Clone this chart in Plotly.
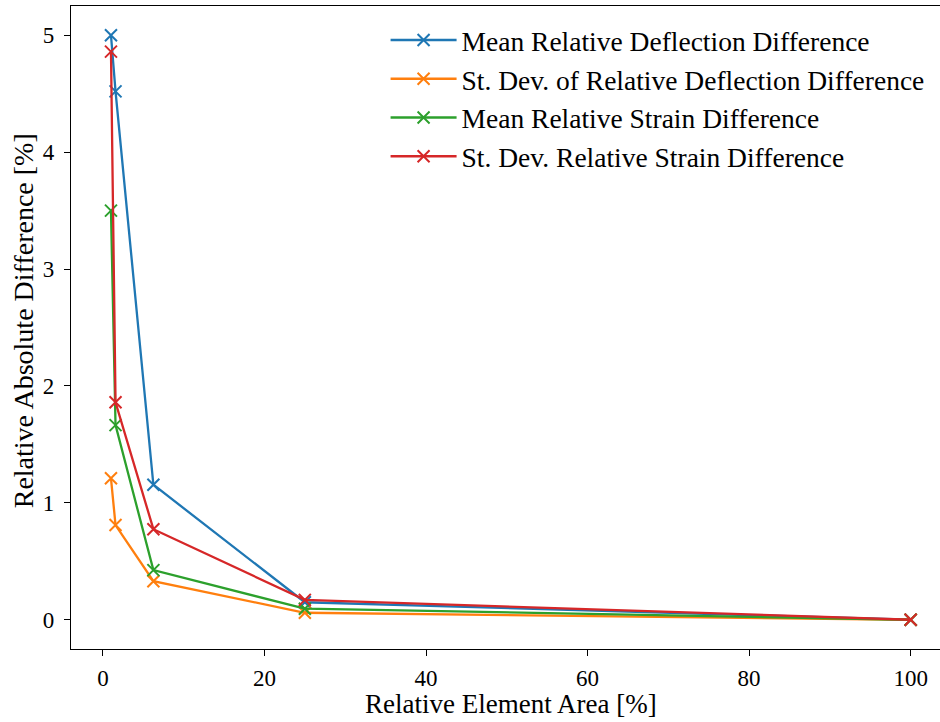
import plotly.graph_objects as go

area = [1, 1.5625, 6.25, 25, 100]
mean_defl = [5.00, 4.52, 1.155, 0.15, 0.0]
std_defl = [1.21, 0.81, 0.33, 0.06, 0.0]
mean_strain = [3.50, 1.665, 0.425, 0.095, 0.0]
std_strain = [4.86, 1.86, 0.775, 0.17, 0.0]

names = ["Mean Relative Deflection Difference",
         "St. Dev. of Relative Deflection Difference",
         "Mean Relative Strain Difference",
         "St. Dev. Relative Strain Difference"]
colors = ["#1f77b4", "#ff7f0e", "#2ca02c", "#d62728"]
series = [mean_defl, std_defl, mean_strain, std_strain]

x_title = "Relative Element Area [%]"
y_title = "Relative Absolute Difference [%]"

FONT = "Liberation Serif, Times New Roman, serif"

fig = go.Figure()
for i, (nm, c, ys) in enumerate(zip(names, colors, series)):
    fig.add_trace(go.Scatter(
        x=area, y=ys, name=nm, mode="lines+markers",
        line=dict(color=c, width=2.3),
        marker=dict(symbol="x-thin", size=12, line=dict(color=c, width=2)),
        legendgroup=f"g{i}",
    ))

fig.update_layout(
    width=940, height=722,
    margin=dict(l=71, r=0, t=6, b=73),
    paper_bgcolor="white", plot_bgcolor="white",
    font=dict(family=FONT, size=23, color="black"),
    showlegend=True,
    legend=dict(
        x=0.362, y=0.985, xanchor="left", yanchor="top",
        font=dict(family=FONT, size=27.5, color="black"),
        bgcolor="rgba(255,255,255,0)",
        tracegroupgap=0, traceorder="grouped", itemwidth=66,
    ),
    xaxis=dict(
        range=[-3.95, 103.63],
        tickvals=[0, 20, 40, 60, 80, 100],
        showgrid=False, zeroline=False,
        showline=True, linecolor="black", linewidth=1.3, mirror=True,
        ticks="outside", ticklen=6, tickwidth=1.3, tickcolor="black",
        ticklabelstandoff=2,
        tickfont=dict(family=FONT, size=23),
    ),
    yaxis=dict(
        range=[-0.25, 5.25],
        tickvals=[0, 1, 2, 3, 4, 5],
        showgrid=False, zeroline=False,
        showline=True, linecolor="black", linewidth=1.3,
        ticks="outside", ticklen=6, tickwidth=1.3, tickcolor="black",
        ticklabelstandoff=5,
        tickfont=dict(family=FONT, size=23),
    ),
    annotations=[
        dict(text=x_title, xref="paper", yref="paper", x=0.506, y=-0.0855,
             xanchor="center", yanchor="middle", showarrow=False,
             font=dict(family=FONT, size=27, color="black")),
        dict(text=y_title, xref="paper", yref="paper", x=-0.055, y=0.51,
             xanchor="center", yanchor="middle", showarrow=False, textangle=-90,
             font=dict(family=FONT, size=28, color="black")),
    ],
)

fig.write_html("out.html")
